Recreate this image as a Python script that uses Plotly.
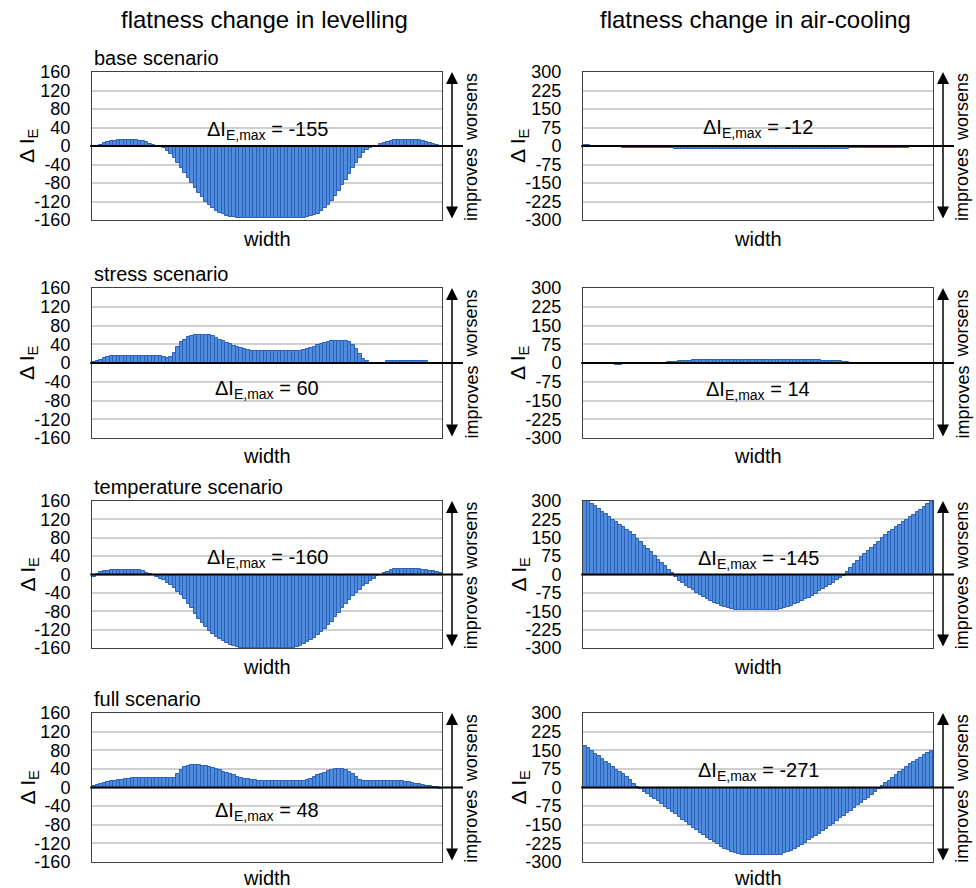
import plotly.graph_objects as go

# ---------------- data ----------------
positions = list(range(100))

lev_base = [-3, 0, 3, 6, 8, 10, 11, 12, 12, 12, 12, 12, 12, 11, 10, 8, 5, 3, 1, -1,
            -4, -10, -18, -27, -37, -47, -58, -69, -80, -91, -101, -111, -120, -128, -135, -141, -145, -148, -151, -153,
            -154, -155, -155, -155, -155, -155, -155, -155, -155, -155, -155, -155, -155, -155, -155, -155, -155, -155, -155, -155,
            -155, -154, -152, -150, -146, -141, -135, -127, -118, -108, -97, -85, -73, -60, -48, -36, -25, -16, -9, -4,
            -1, 1, 4, 7, 9, 11, 12, 12, 13, 13, 13, 13, 12, 12, 11, 9, 7, 5, 3, 1]

lev_stress = [2, 4, 7, 11, 13, 15, 16, 16, 16, 16, 16, 16, 16, 16, 16, 16, 16, 16, 16, 14,
              12, 11, 13, 22, 35, 44, 50, 55, 58, 60, 60, 60, 60, 59, 57, 54, 50, 46, 43, 40,
              37, 34, 31, 29, 27, 26, 25, 25, 25, 25, 25, 25, 25, 25, 25, 25, 25, 25, 25, 26,
              27, 29, 32, 35, 38, 41, 43, 45, 47, 48, 48, 48, 47, 44, 38, 30, 19, 9, 4, 1,
              1, 1, 1, 1, 5, 5, 5, 5, 5, 5, 5, 5, 5, 5, 5, 5, 1, 1, 1, -2]

lev_temp = [-5, 2, 5, 7, 8, 9, 9, 9, 9, 9, 9, 9, 9, 9, 7, 4, 1, -2, -5, -9,
            -13, -18, -23, -30, -37, -45, -53, -64, -74, -85, -96, -106, -115, -123, -130, -136, -141, -145, -149, -153,
            -156, -158, -160, -160, -160, -160, -160, -160, -160, -160, -160, -160, -160, -160, -160, -160, -160, -160, -158, -155,
            -151, -147, -143, -138, -132, -126, -119, -111, -103, -93, -84, -74, -65, -56, -47, -40, -33, -26, -20, -14,
            -9, -4, -1, 3, 6, 9, 11, 11, 11, 11, 11, 11, 11, 11, 10, 9, 8, 7, 5, 4]

lev_full = [3, 5, 7, 9, 11, 13, 14, 16, 17, 18, 19, 20, 21, 21, 21, 21, 21, 21, 21, 21,
            21, 21, 21, 21, 28, 38, 43, 46, 48, 48, 48, 47, 46, 44, 41, 39, 37, 34, 31, 28,
            26, 23, 21, 19, 18, 17, 16, 15, 15, 15, 15, 15, 15, 15, 15, 15, 15, 15, 15, 15,
            15, 16, 19, 22, 26, 29, 32, 35, 37, 39, 39, 39, 37, 34, 28, 22, 16, 14, 14, 14,
            14, 14, 14, 14, 14, 14, 14, 14, 14, 12, 11, 10, 8, 7, 5, 4, 3, 2, 1, -4]

air_base = [4, 3, -3, -5, -5, -5, -5, -5, -5, -5, -5, -9, -9, -9, -9, -9, -9, -9, -9, -9,
            -9, -9, -9, -9, -9, -9, -11, -11, -11, -11, -11, -11, -11, -11, -11, -11, -11, -11, -11, -11,
            -11, -12, -12, -12, -12, -12, -12, -12, -12, -12, -12, -12, -12, -12, -12, -12, -12, -12, -12, -11,
            -11, -11, -11, -11, -11, -11, -11, -11, -11, -11, -11, -11, -11, -11, -11, -11, -9, -9, -9, -9,
            -9, -9, -9, -9, -9, -9, -9, -9, -9, -9, -9, -9, -9, -5, -5, -5, -5, -5, -2, -2]

air_stress = [2, -2, -2, -2, -2, -2, -5, -5, -5, -6, -6, -3, -3, -3, -3, -3, -3, -3, -3, -3,
              -3, 0, 0, 0, 5, 5, 6, 7, 8, 9, 10, 12, 12, 13, 13, 13, 13, 14, 14, 14,
              14, 14, 14, 14, 14, 14, 14, 14, 14, 14, 14, 14, 14, 14, 14, 14, 14, 14, 14, 13,
              13, 13, 13, 12, 12, 12, 11, 11, 10, 10, 9, 8, 8, 7, 6, 5, 2, 2, 2, 2,
              2, 2, 2, 2, 2, 2, -4, -4, -4, -4, -4, -4, -4, -4, -4, -4, -4, 2, 2, 2]

air_temp = [300, 298, 288, 278, 267, 256, 245, 234, 223, 213, 203, 192, 182, 172, 160, 146, 132, 118, 104, 90,
            76, 61, 47, 33, 19, 5, -12, -25, -35, -45, -54, -64, -74, -84, -93, -101, -108, -115, -121, -127,
            -132, -137, -141, -144, -145, -145, -145, -145, -145, -145, -145, -145, -145, -145, -145, -145, -141, -137, -132, -127,
            -121, -115, -108, -101, -94, -86, -78, -69, -60, -51, -42, -33, -24, -15, -6, 12, 28, 42, 56, 70,
            84, 97, 108, 121, 134, 148, 162, 172, 182, 193, 203, 213, 223, 233, 243, 254, 264, 276, 288, 298]

air_full = [168, 158, 147, 135, 125, 114, 104, 93, 83, 72, 63, 54, 42, 29, 16, 2, -7, -17, -27, -37,
            -46, -56, -66, -77, -87, -98, -108, -119, -129, -140, -151, -162, -172, -183, -193, -202, -211, -220, -229, -238,
            -246, -253, -259, -264, -267, -271, -271, -271, -271, -271, -271, -271, -271, -271, -271, -271, -271, -265, -260, -254,
            -248, -241, -232, -222, -212, -204, -195, -186, -177, -166, -156, -145, -134, -123, -113, -103, -93, -82, -72, -62,
            -51, -41, -30, -20, -8, 6, 17, 28, 39, 50, 61, 72, 83, 93, 102, 111, 120, 130, 138, 145]

column_titles = ["flatness change in levelling", "flatness change in air-cooling"]
row_titles = ["base scenario", "stress scenario", "temperature scenario", "full scenario"]
levelling_series = [lev_base, lev_stress, lev_temp, lev_full]
aircooling_series = [air_base, air_stress, air_temp, air_full]
levelling_max = ["-155", "60", "-160", "48"]
aircooling_max = ["-12", "14", "-145", "-271"]
levelling_ticks = [160, 120, 80, 40, 0, -40, -80, -120, -160]
aircooling_ticks = [300, 225, 150, 75, 0, -75, -150, -225, -300]

# ---------------- layout geometry (pixels) ----------------
W, H = 976, 888
col_x = [(92, 442), (583, 933)]
row_y = [(72, 220), (288, 438), (501, 648), (713, 862)]
width_label_dy = [19, 18, 19, 16]
label_y = {  # centre of the "ΔI_E,max" text, per (row, col)
    (0, 0): 127, (0, 1): 125,
    (1, 0): 386, (1, 1): 388,
    (2, 0): 555, (2, 1): 556,
    (3, 0): 808, (3, 1): 768,
}

def px(x):
    return x / W

def py(y):
    # mapping calibrated against the rendered output
    return 1 - (y - 10) / 868

FONT = "Liberation Sans, Arial, sans-serif"
BAR_FILL = "#4F8DDC"
BAR_LINE = "#2C5FB9"

fig = go.Figure()
layout_axes = {}
annotations = []
shapes = []

k = 0
for r in range(4):
    for c in range(2):
        k += 1
        xa = "x" if k == 1 else f"x{k}"
        ya = "y" if k == 1 else f"y{k}"
        data = levelling_series[r] if c == 0 else aircooling_series[r]
        ticks = levelling_ticks if c == 0 else aircooling_ticks
        lim = ticks[0]
        fig.add_trace(go.Bar(
            x=positions, y=data, xaxis=xa, yaxis=ya,
            marker=dict(color=BAR_FILL, line=dict(color=BAR_LINE, width=1)),
            showlegend=False, hoverinfo="y",
        ))
        x0, x1 = col_x[c]
        y0, y1 = row_y[r]
        layout_axes["xaxis" if k == 1 else f"xaxis{k}"] = dict(
            domain=[px(x0), px(x1)], anchor=ya, range=[-0.5, 99.5],
            showticklabels=False, ticks="", showgrid=False, zeroline=False,
            showline=True, mirror=True, linecolor="#404040", linewidth=1,
            fixedrange=True,
        )
        layout_axes["yaxis" if k == 1 else f"yaxis{k}"] = dict(
            domain=[py(y1), py(y0)], anchor=xa, range=[-lim, lim],
            tickvals=ticks, ticktext=[str(t) for t in ticks],
            tickfont=dict(family=FONT, size=18, color="#000000"),
            ticklabelstandoff=17,
            showgrid=True, gridcolor="#D0D0D0", gridwidth=1.5, zeroline=False,
            showline=True, mirror=True, linecolor="#404040", linewidth=1,
            fixedrange=True,
        )
        # zero line extending beyond the frame to the arrow
        shapes.append(dict(type="line", xref=f"{xa} domain", yref=f"{ya} domain",
                           x0=-0.005, x1=1.06, y0=0.5, y1=0.5,
                           line=dict(color="#000000", width=2), layer="above"))
        # double-headed arrow
        ax_x = x1 + 10
        annotations.append(dict(xref="paper", yref="paper", x=px(ax_x), y=py(y0),
                                ax=0, ay=(y1 - y0), axref="pixel", ayref="pixel",
                                text="", showarrow=True, arrowhead=2, startarrowhead=2,
                                arrowside="end+start", arrowsize=1.6, startarrowsize=1.6,
                                arrowwidth=1.5, arrowcolor="#000000", standoff=0, startstandoff=0))
        mid = (y0 + y1) / 2
        annotations.append(dict(xref="paper", yref="paper", x=px(ax_x + 19), y=py((y0 + mid) / 2 - 2),
                                text="worsens", textangle=-90, showarrow=False,
                                font=dict(family=FONT, size=18, color="#000000"),
                                xanchor="center", yanchor="middle"))
        annotations.append(dict(xref="paper", yref="paper", x=px(ax_x + 19), y=py((mid + y1) / 2 + 2),
                                text="improves", textangle=-90, showarrow=False,
                                font=dict(family=FONT, size=18, color="#000000"),
                                xanchor="center", yanchor="middle"))
        # y-axis title
        annotations.append(dict(xref="paper", yref="paper", x=px(x0 - 64), y=py(mid),
                                text="Δ I<sub>E</sub>", textangle=-90, showarrow=False,
                                font=dict(family=FONT, size=21, color="#000000"),
                                xanchor="center", yanchor="middle"))
        # x-axis title
        annotations.append(dict(xref="paper", yref="paper", x=px((x0 + x1) / 2), y=py(y1 + width_label_dy[r]),
                                text="width", showarrow=False,
                                font=dict(family=FONT, size=20, color="#000000"),
                                xanchor="center", yanchor="middle"))
        # max label
        mx = levelling_max[r] if c == 0 else aircooling_max[r]
        annotations.append(dict(xref="paper", yref="paper", x=px((x0 + x1) / 2), y=py(label_y[(r, c)] + 3),
                                text=f"ΔI<sub>E,max</sub> = {mx}", showarrow=False,
                                font=dict(family=FONT, size=20, color="#000000"),
                                xanchor="center", yanchor="middle"))
        # row subtitle (left column only)
        if c == 0:
            annotations.append(dict(xref="paper", yref="paper", x=px(x0), y=py(y0 - 14),
                                    text=row_titles[r], showarrow=False,
                                    font=dict(family=FONT, size=20, color="#000000"),
                                    xanchor="left", yanchor="middle"))

for c in range(2):
    x0, x1 = col_x[c]
    annotations.append(dict(xref="paper", yref="paper", x=px((x0 + x1) / 2 - 3), y=py(19),
                            text=column_titles[c], showarrow=False,
                            font=dict(family=FONT, size=24, color="#000000"),
                            xanchor="center", yanchor="middle"))

fig.update_layout(
    width=W, height=H, margin=dict(l=0, r=0, t=0, b=0),
    paper_bgcolor="white", plot_bgcolor="white",
    bargap=0, showlegend=False,
    font=dict(family=FONT, color="#000000"),
    annotations=annotations, shapes=shapes,
    **layout_axes,
)

fig.write_html("out.html")
